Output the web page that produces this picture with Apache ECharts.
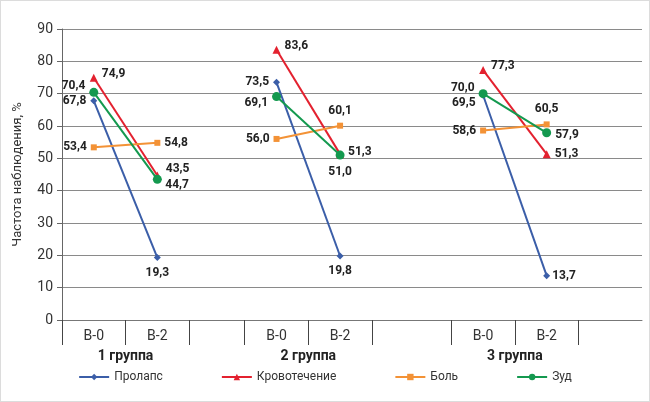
<!DOCTYPE html>
<html><head><meta charset="utf-8">
<script src="https://cdn.jsdelivr.net/npm/echarts@6/dist/echarts.min.js"></script>
<style>html,body{margin:0;padding:0;background:#fff}#c{width:648px;height:400px;border:1px solid #dcdcdc}</style>
</head><body><div id="c"></div>
<script>
const categories = ['B-0','B-2','','B-0','B-2','','B-0','B-2',''];
const groupLabels = ['1 группа','2 группа','3 группа'];
const yTicks = {min:0,max:90,interval:10};
const seriesNames = ['Пролапс','Кровотечение','Боль','Зуд'];
const prolapse = [67.8, 19.3, null, 73.5, 19.8, null, 69.5, 13.7, null];
const bleeding = [74.9, 44.7, null, 83.6, 51.3, null, 77.3, 51.3, null];
const pain     = [53.4, 54.8, null, 56.0, 60.1, null, 58.6, 60.5, null];
const itch     = [70.4, 43.5, null, 69.1, 51.0, null, 70.0, 57.9, null];

// axis layout: relative widths of the category slots (as in the original figure)
const slotUnits = [8,8,7,8,8,10,8,8,8];
const bounds = [0];
slotUnits.forEach(u => bounds.push(bounds[bounds.length-1] + u));
const fineCount = bounds[bounds.length-1] + 1;
const centerIdx = slotUnits.map((u, s) => bounds[s] + u / 2);
const fineCats = new Array(fineCount).fill('');
categories.forEach((c, s) => { if (c) fineCats[centerIdx[s]] = c; });
const groupCats = new Array(fineCount).fill('');
groupLabels.forEach((g, gi) => { groupCats[bounds[gi*3+1]] = g; });
const boundSet = new Set(bounds.slice(0, -1));

const FONT = "Roboto,'Liberation Sans',sans-serif";
const colors = ['#3b5ea8','#e3212f','#f39236','#14994f'];
const symbols = ['diamond','triangle','rect','circle'];
const symSizes = [7,8,6,9];
// label placement per point: [position, dx, dy]
const labelPlace = [
  [['left',0,0],['bottom',0,2],null,['left',0,0],['bottom',0,2],null,['left',0,8],['right',-2,0],null],
  [['right',0,-4],['right',0,10],null,['right',0,-4],['right',0,-2],null,['right',0,-4],['right',0,0],null],
  [['left',0,0],['right',0,0],null,['left',0,0],['top',0,-2],null,['left',0,0],['top',0,-2],null],
  [['left',0,-6],['right',0,-10],null,['left',0,6],['bottom',0,2],null,['left',0,-6],['right',0,2],null]
];
const fmt = v => v.toFixed(1).replace('.', ',');
const allData = [prolapse, bleeding, pain, itch];

const series = [];
allData.forEach((arr, si) => {
  groupLabels.forEach((g, gi) => {
    const data = new Array(fineCount).fill(null);
    [gi*3, gi*3+1].forEach(s => {
      const v = arr[s];
      if (v === null) return;
      const p = labelPlace[si][s];
      data[centerIdx[s]] = {value: v, label: {show: true, position: p[0], offset: [p[1], p[2]],
        formatter: d => fmt(d.value), fontFamily: FONT, fontWeight: 'bold', fontSize: 12, color: '#222', distance: 4}};
    });
    series.push({
      name: seriesNames[si], type: 'line', connectNulls: true,
      symbol: symbols[si], symbolSize: symSizes[si],
      lineStyle: {width: 2, color: colors[si]},
      itemStyle: {color: colors[si]},
      z: si === 3 ? 4 : 3,
      data: data
    });
  });
});

const chart = echarts.init(document.getElementById('c'));
chart.setOption({
  animation: false,
  color: colors,
  grid: {left: 61, right: 7, top: 28, bottom: 81},
  xAxis: [{
    type: 'category', data: fineCats, boundaryGap: false,
    axisLine: {lineStyle: {color: '#777', width: 1}},
    axisTick: {show: true, length: 25, interval: (i) => boundSet.has(i), lineStyle: {color: '#444'}},
    axisLabel: {fontFamily: FONT, fontSize: 14, color: '#333', margin: 9, interval: 0},
    splitLine: {show: false}
  }, {
    type: 'category', data: groupCats, boundaryGap: false, position: 'bottom',
    axisLine: {show: false}, axisTick: {show: false}, splitLine: {show: false},
    axisLabel: {fontFamily: FONT, fontSize: 14, fontWeight: 'bold', color: '#222', margin: 29, interval: 0}
  }],
  yAxis: {
    type: 'value', min: yTicks.min, max: yTicks.max, interval: yTicks.interval,
    name: 'Частота наблюдения, %', nameLocation: 'middle', nameGap: 38,
    nameTextStyle: {fontFamily: FONT, fontSize: 13, color: '#333'},
    axisLine: {show: true, lineStyle: {color: '#666'}},
    axisTick: {show: true, length: 5, lineStyle: {color: '#666'}},
    axisLabel: {fontFamily: FONT, fontSize: 14, color: '#333', margin: 9},
    splitLine: {lineStyle: {color: '#8a8a8a', width: 1}}
  },
  legend: {
    bottom: 13, left: 'center', itemGap: 58, itemWidth: 30, itemHeight: 8,
    textStyle: {fontFamily: FONT, fontSize: 12, color: '#333'},
    data: seriesNames
  },
  series: series
});
</script></body></html>
